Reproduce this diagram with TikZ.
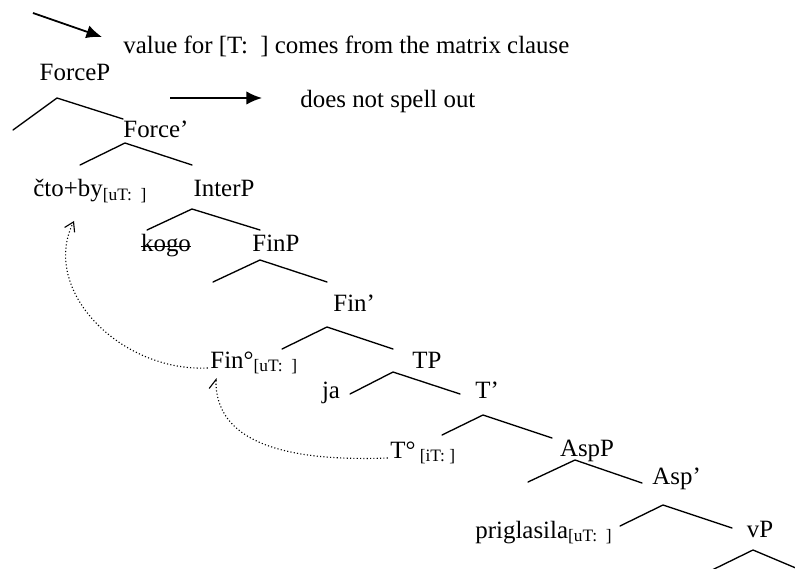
\documentclass[tikz,border=0pt]{standalone}
\usepackage{fontspec}
\setmainfont{Liberation Serif}
\usepackage{tikz}
\usetikzlibrary{
  arrows.meta,
  calc,
  positioning
}

\newcommand{\feat}[1]{\textsubscript{#1}}

\begin{document}
\begin{tikzpicture}[x=0.45pt,y=-0.45pt,>=Latex,
  every node/.style={inner sep=0pt,font=\fontsize{11.2}{13.4}\selectfont},
  branch/.style={line width=0.6pt,line cap=round},
  legendarrow/.style={line width=0.8pt,-{Latex[length=7pt,width=6pt]}},
  trace/.style={densely dotted,line width=0.5pt}]
  \useasboundingbox (0,0) rectangle (795,569);
  \clip (0,0) rectangle (795,569);

  % legend
  \coordinate (arrA1) at (33,13);  \coordinate (arrA2) at (102,37);
  \coordinate (arrB1) at (170,98); \coordinate (arrB2) at (262,98);
  \draw[legendarrow] (arrA1) -- (arrA2);
  \draw[legendarrow] (arrB1) -- (arrB2);
  \node[anchor=base west] (value) at (123,54) {value for [T:\ \ ] comes from the matrix clause};
  \node[anchor=base west] (spell) at (300,108) {does not spell out};

  % labels of the tree
  \node[anchor=base] (forcep) at (75,81) {ForceP};
  \node[anchor=base west] (forcebar) at (123,138) {Force’};
  \node[anchor=base west] (cto) at (33,197) {čto+by\feat{[uT:\ \ ]}};
  \node[anchor=base] (interp) at (224,197) {InterP};
  \node[anchor=base] (kogo) at (166,252) {kogo};
  \node[anchor=base] (finp) at (276,252) {FinP};
  \node[anchor=base west] (finbar) at (333,311) {Fin’};
  \node[anchor=base west] (fin) at (210,368) {Fin°\feat{[uT:\ \ ]}};
  \node[anchor=base] (tp) at (427,368) {TP};
  \node[anchor=base] (ja) at (331,398) {ja};
  \node[anchor=base west] (tbar) at (475,398) {T’};
  \node[anchor=base west] (t) at (390,458) {T°\,\feat{[iT:\ ]}};
  \node[anchor=base] (aspp) at (587,456) {AspP};
  \node[anchor=base west] (aspbar) at (652,484) {Asp’};
  \node[anchor=base west] (prig) at (475,538) {priglasila\feat{[uT:\ \ ]}};
  \node[anchor=base] (vp) at (760,537) {vP};

  \draw[line width=0.6pt] ([yshift=2.4pt]kogo.base west) -- ([yshift=2.4pt]kogo.base east);

  % branches: name/apex/left end/right end
  \foreach \n/\ax/\ay/\lx/\ly/\rx/\ry in {
      forcep/57/98/13/130/123/119,
      forcebar/125/143/80/165/192/165,
      interp/192/209/147/230/260/230,
      finp/260/260/213/282/327/282,
      finbar/327/327/282/349/393/349,
      tp/393/372/350/394/460/394,
      tbar/483/415/442/435/552/438,
      aspp/575/460/528/482/642/483,
      aspbar/663/505/620/526/732/528,
      vp/753/550/708/572/810/574}{
    \coordinate (\n-a) at (\ax,\ay);
    \coordinate (\n-l) at (\lx,\ly);
    \coordinate (\n-r) at (\rx,\ry);
    \draw[branch] (\n-l) -- (\n-a) -- (\n-r);
  }

  % movement
  \coordinate (ctofoot) at (74,221);
  \coordinate (finfoot) at (216,378);
  \draw[trace,-{Straight Barb[length=4pt,width=5pt]}]
    ([xshift=-1pt]fin.base west) .. controls (120,372) and (40,290) .. (ctofoot);
  \draw[trace,-{Straight Barb[left,length=4pt,width=6pt]}]
    ([xshift=-1pt]t.base west) .. controls (280,462) and (215,440) .. (finfoot);
\end{tikzpicture}
\end{document}
